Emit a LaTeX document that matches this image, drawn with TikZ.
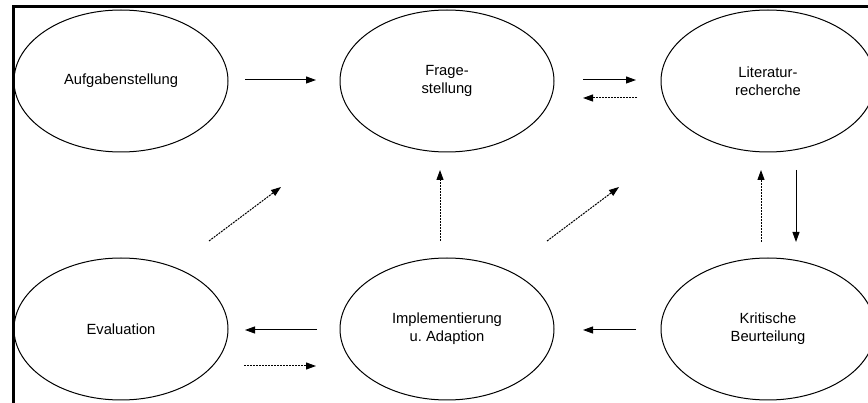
\documentclass[tikz,border=0pt]{standalone}
\usepackage{fontspec}
\setmainfont{Liberation Sans}
\usetikzlibrary{arrows.meta,shapes.geometric}
\frenchspacing
\begin{document}
\begin{tikzpicture}[x=1pt,y=-1pt,
  phase/.style={draw,line width=1pt,ellipse,minimum width=214pt,minimum height=142pt,
    inner sep=0pt,align=center,font=\fontsize{14.75}{17.7}\selectfont},
  flow/.style={line width=1pt,-{Triangle[length=10pt,width=7pt]}},
  back/.style={flow,dash pattern=on 2pt off 1pt}]
\useasboundingbox (0,0) rectangle (868,403);
\clip (0,0) rectangle (868,403);
% frame
\draw[line width=3pt] (13.5,410) -- (13.5,6.5) -- (880,6.5);
% phases
\node[phase] (aufg)  at (121,81)  {Aufgabenstellung};
\node[phase] (frage) at (447,81)  {Frage-\\stellung};
\node[phase] (lit)   at (768,81)  {Literatur-\\recherche};
\node[phase] (eval)  at (121,329) {Evaluation};
\node[phase] (impl)  at (447,329) {Implementierung\\u.\ Adaption};
\node[phase] (krit)  at (768,329) {Kritische\\Beurteilung};
% arrow end points
\coordinate (a1) at (245,80);  \coordinate (a2) at (316,80);
\coordinate (b1) at (583,80);  \coordinate (b2) at (636,80);
\coordinate (c1) at (637,98);  \coordinate (c2) at (583,98);
\coordinate (d1) at (796,170); \coordinate (d2) at (796,242);
\coordinate (e1) at (761,242); \coordinate (e2) at (761,170);
\coordinate (f1) at (636,330); \coordinate (f2) at (583,330);
\coordinate (g1) at (317,330); \coordinate (g2) at (245,330);
\coordinate (h1) at (244,366); \coordinate (h2) at (316,366);
\coordinate (i1) at (209,241); \coordinate (i2) at (281,187);
\coordinate (j1) at (440,241); \coordinate (j2) at (440,170);
\coordinate (k1) at (547,241); \coordinate (k2) at (619,187);
% forward flow
\draw[flow] (a1) -- (a2);
\draw[flow] (b1) -- (b2);
\draw[flow] (d1) -- (d2);
\draw[flow] (f1) -- (f2);
\draw[flow] (g1) -- (g2);
% feedback
\draw[back] (c1) -- (c2);
\draw[back] (e1) -- (e2);
\draw[back] (h1) -- (h2);
\draw[back] (i1) -- (i2);
\draw[back] (j1) -- (j2);
\draw[back] (k1) -- (k2);
\end{tikzpicture}
\end{document}
